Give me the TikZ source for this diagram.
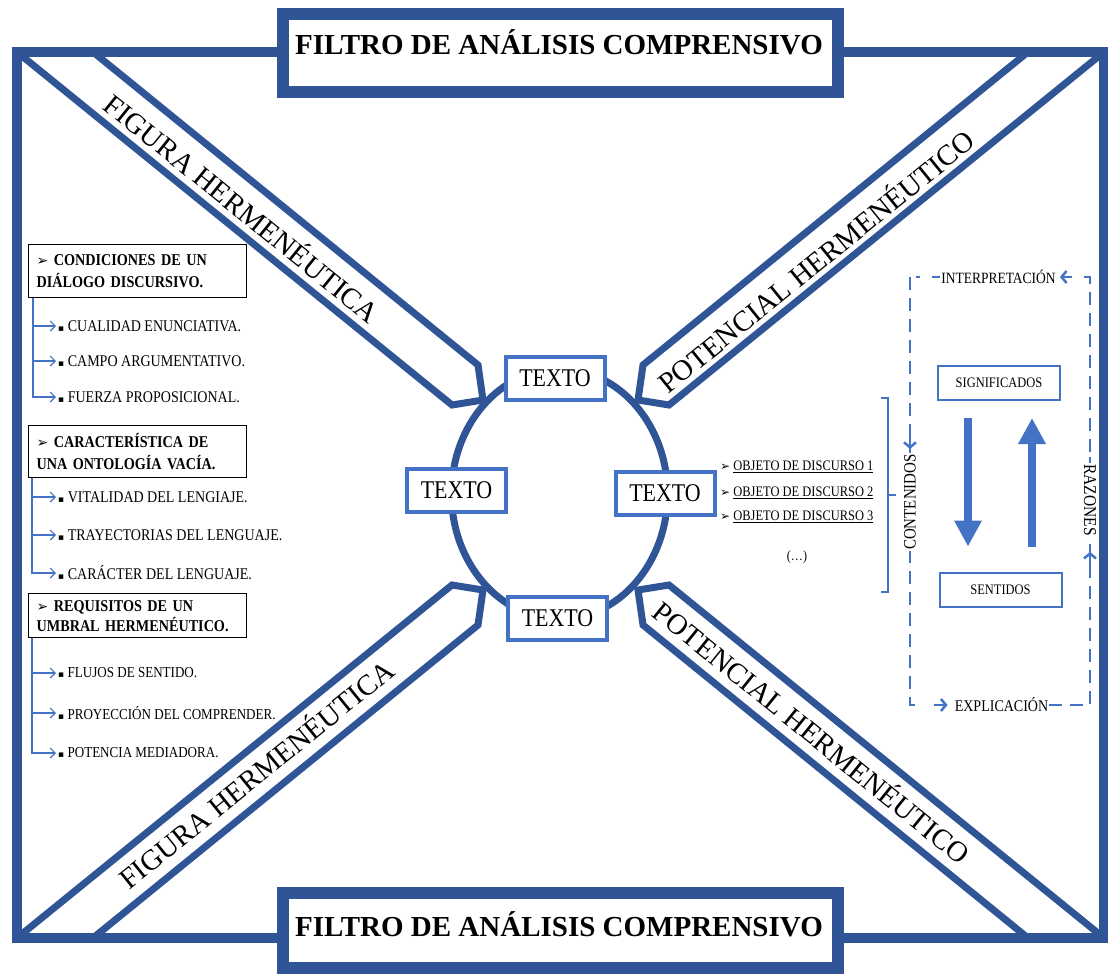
\documentclass[tikz,border=0pt]{standalone}
\usepackage{fontspec}
\setmainfont{Liberation Serif}
\newfontfamily\narrowserif[FakeStretch=0.86]{Liberation Serif}
\newfontfamily\symfont{DejaVu Sans}
\usetikzlibrary{arrows.meta,calc}
\definecolor{frameblue}{HTML}{2F5597}
\definecolor{flowblue}{HTML}{4472C4}
\newcommand\setfs[1]{\fontsize{#1pt}{#1pt}\selectfont}
\newcommand\narrowfs[1]{\narrowserif\fontsize{#1pt}{#1pt}\selectfont}
\newcommand\pointer{{\symfont\fontsize{14pt}{14pt}\selectfont ➢}}
\newcommand\smallpointer{{\symfont\fontsize{12pt}{12pt}\selectfont ➢}}
\newcommand\sqbullet{{\symfont\fontsize{9pt}{9pt}\selectfont ▪}}

\begin{document}
\begin{tikzpicture}[x=1pt,y=-1pt,
  band/.style={draw=frameblue,line width=7pt,line join=miter},
  bandlabel/.style={font=\setfs{29},inner sep=0pt},
  titlebox/.style={draw=frameblue,line width=12pt,fill=white,minimum width=555pt,inner sep=0pt},
  titletext/.style={font=\bfseries\setfs{29},anchor=base,inner sep=0pt},
  textobox/.style={draw=flowblue,line width=4pt,fill=white,minimum width=99pt,minimum height=43pt,inner sep=0pt,font=\narrowfs{25.5}},
  headbox/.style={draw=black,line width=1.3pt,fill=white,anchor=north west,align=left,text width=202pt,inner xsep=8pt,inner ysep=0pt,font=\narrowserif\bfseries\fontsize{16.5pt}{22pt}\selectfont},
  item/.style={anchor=west,inner xsep=2pt,inner ysep=1pt,font=\narrowfs{16.3}},
  smallitem/.style={item,font=\narrowfs{15.2}},
  listline/.style={draw=flowblue,line width=1.2pt},
  listarrow/.style={listline,-{Straight Barb[length=5pt,width=10pt]}},
  objitem/.style={anchor=west,inner sep=1pt,font=\narrowfs{14.5}},
  flow/.style={draw=flowblue,line width=2.5pt},
  flowdash/.style={flow,dash pattern=on 13pt off 8pt},
  flowtip/.style={flow,-{Straight Barb[length=5pt,width=12pt]}},
  flowlabel/.style={fill=white,inner xsep=1pt,inner ysep=1pt,font=\narrowfs{15.7}},
  termbox/.style={draw=flowblue,line width=2pt,minimum width=122pt,minimum height=34pt,inner sep=0pt,font=\narrowfs{14.5}},
  bigarrow/.style={draw=flowblue,line width=8pt,-{Triangle[length=26pt,width=26pt]}}
]
\useasboundingbox (0,0) rectangle (1108,974);

% outer frame
\draw[frameblue,line width=10pt] (17,52) rectangle (1104,938);

% four diagonal bands ending in a point at the ring
\draw[band] (93,52) -- (478,365) -- (483,400) -- (452,405) -- (17,52);
\draw[band] (1028,52) -- (643,365) -- (638,400) -- (669,405) -- (1104,52);
\draw[band] (93,938) -- (478,625) -- (483,590) -- (452,585) -- (17,938);
\draw[band] (1028,938) -- (643,625) -- (638,590) -- (669,585) -- (1104,938);

\node[bandlabel,rotate=-39] (bandTL) at (243,207) {FIGURA HERMENÉUTICA};
\node[bandlabel,rotate=39]  (bandTR) at (815,260) {POTENCIAL HERMENÉUTICO};
\node[bandlabel,rotate=39]  (bandBL) at (255,773) {FIGURA HERMENÉUTICA};
\node[bandlabel,rotate=-39] (bandBR) at (813,731) {POTENCIAL HERMENÉUTICO};

% central ring with its four text boxes
\draw[frameblue,line width=7pt] (559.5,494) ellipse [x radius=108,y radius=125];
\node[textobox] (ttop)    at (555,378.5)   {TEXTO};
\node[textobox] (tleft)   at (456.5,490)   {TEXTO};
\node[textobox] (tright)  at (665,493.5)   {TEXTO};
\node[textobox] (tbottom) at (557.5,618.5) {TEXTO};

% title boxes
\node[titlebox,minimum height=78pt] (topbox) at (560.5,53) {};
\node[titletext] (toptitle) at (559,55) {FILTRO DE ANÁLISIS COMPRENSIVO};
\node[titlebox,minimum height=75pt] (botbox) at (560.5,930.5) {};
\node[titletext] (bottitle) at (559,936) {FILTRO DE ANÁLISIS COMPRENSIVO};

% left column: headings and their lists
\node[headbox,minimum height=53pt] (h1) at (28,244) {\pointer\ CONDICIONES DE UN\\DIÁLOGO DISCURSIVO.};
\node[headbox,minimum height=52pt] (h2) at (28,425) {\pointer\ CARACTERÍSTICA DE\\UNA ONTOLOGÍA VACÍA.};
\node[headbox,minimum height=44pt,font=\narrowserif\bfseries\fontsize{16.5pt}{20pt}\selectfont] (h3) at (28,593) {\pointer\ REQUISITOS DE UN\\UMBRAL HERMENÉUTICO.};

\node[item] (i1) at (56,326) {\sqbullet\ CUALIDAD ENUNCIATIVA.};
\node[item] (i2) at (56,361) {\sqbullet\ CAMPO ARGUMENTATIVO.};
\node[item] (i3) at (56,397) {\sqbullet\ FUERZA PROPOSICIONAL.};
\node[item] (i4) at (56,497) {\sqbullet\ VITALIDAD DEL LENGIAJE.};
\node[item] (i5) at (56,535) {\sqbullet\ TRAYECTORIAS DEL LENGUAJE.};
\node[item] (i6) at (56,573) {\sqbullet\ CARÁCTER DEL LENGUAJE.};
\node[smallitem] (i7) at (56,673) {\sqbullet\ FLUJOS DE SENTIDO.};
\node[smallitem] (i8) at (56,713) {\sqbullet\ PROYECCIÓN DEL COMPRENDER.};
\node[smallitem] (i9) at (56,753) {\sqbullet\ POTENCIA MEDIADORA.};

\coordinate (s1) at ([xshift=5pt]h1.south west);
\coordinate (s2) at ([xshift=4pt]h2.south west);
\coordinate (s3) at ([xshift=4pt]h3.south west);
\draw[listarrow] (s1) |- (i3.west);
\draw[listarrow] (s1 |- i1.west) -- (i1.west);
\draw[listarrow] (s1 |- i2.west) -- (i2.west);
\draw[listarrow] (s2) |- (i6.west);
\draw[listarrow] (s2 |- i4.west) -- (i4.west);
\draw[listarrow] (s2 |- i5.west) -- (i5.west);
\draw[listarrow] (s3) |- (i9.west);
\draw[listarrow] (s3 |- i7.west) -- (i7.west);
\draw[listarrow] (s3 |- i8.west) -- (i8.west);

% objects of discourse and their bracket
\node[objitem] (o1) at (719,467) {\smallpointer\ \underline{OBJETO DE DISCURSO 1}};
\node[objitem] (o2) at (719,493) {\smallpointer\ \underline{OBJETO DE DISCURSO 2}};
\node[objitem] (o3) at (719,517) {\smallpointer\ \underline{OBJETO DE DISCURSO 3}};
\node[objitem,anchor=center,font=\narrowfs{14}] (odots) at (797,557) {(…)};

\coordinate (brtop) at (888,398);
\coordinate (brbot) at (888,592);
\coordinate (brmid) at (888,495);
\draw[flow] ($(brtop)+(-7,0)$) -- (brtop) -- (brbot) -- ($(brbot)+(-7,0)$);
\draw[flow] (brmid) -- ++(8,0);

% interpretation / explanation cycle
\coordinate (cycNW) at (910,277);
\coordinate (cycSE) at (1090,705);
\draw[flowdash] (cycNW) rectangle (cycSE);

\node[flowlabel] (interp) at (998.5,277) {INTERPRETACIÓN};
\node[flowlabel,font=\narrowfs{16.3}] (expl) at (1001.5,705) {EXPLICACIÓN};
\node[flowlabel,font=\narrowfs{17.4},rotate=90] (cont) at (910,502) {CONTENIDOS};
\node[flowlabel,font=\narrowfs{18},rotate=-90] (raz) at (1090,500) {RAZONES};

\fill[white] ($(interp.north west)+(-20,0)$) rectangle (interp.south west);
\fill[white] (interp.north east) rectangle ($(interp.south east)+(24,0)$);
\fill[white] ($(expl.north west)+(-34,0)$) rectangle (expl.south west);
\draw[flow] (interp.west) -- ++(-8,0);
\draw[flowtip] ([xshift=15pt]interp.east) -- ([xshift=3pt]interp.east);
\draw[flowtip] ([xshift=-20pt]expl.west) -- ([xshift=-6pt]expl.west);
\draw[flow] (expl.east) -- ++(13,0);
\draw[flowtip] ([yshift=16pt]cont.east) -- ([yshift=4pt]cont.east);
\draw[flow] (raz.west) -- ++(0,-6);
\draw[flowtip] ([yshift=-29pt]raz.east) -- ([yshift=-15pt]raz.east);

\node[termbox] (sig) at (999,383) {SIGNIFICADOS};
\node[termbox] (sen) at (1000.5,589.5) {SENTIDOS};
\coordinate (downA) at ($(sig.south)+(-31,17)$);
\coordinate (downB) at ($(sen.north)+(0,-25)$);
\coordinate (upA) at ($(sen.north)+(31.5,-25)$);
\coordinate (upB) at ($(sig.south)+(0,17)$);
\draw[bigarrow] (downA) -- (downA |- downB);
\draw[bigarrow] (upA) -- (upA |- upB);

\end{tikzpicture}
\end{document}
